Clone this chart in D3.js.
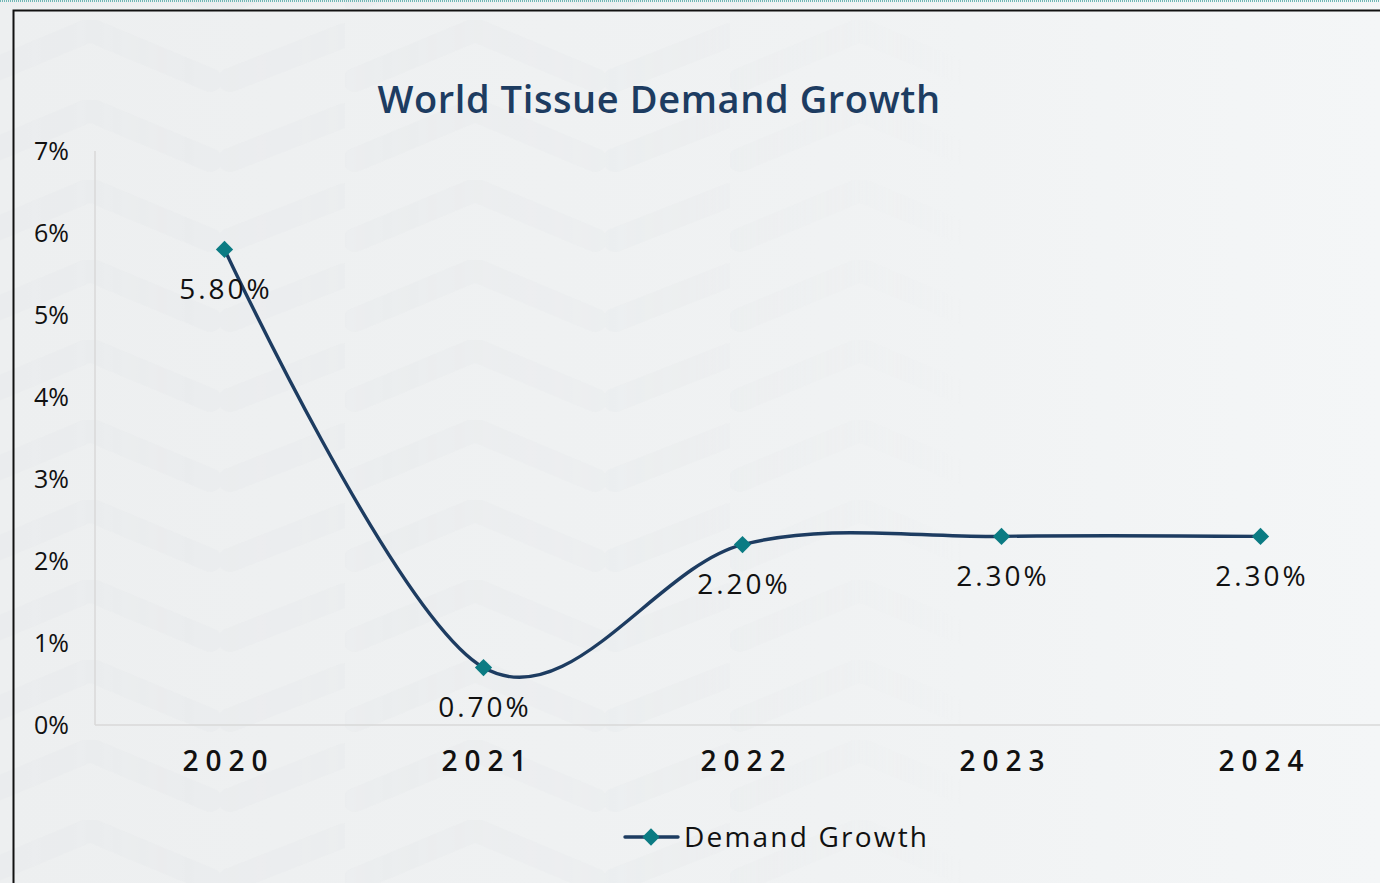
<!DOCTYPE html>
<html>
<head>
<meta charset="utf-8">
<script src="https://cdn.jsdelivr.net/npm/d3@7"></script>
<style>
  html, body { margin: 0; padding: 0; background: #eff1f2; }
  svg { display: block; }
</style>
</head>
<body>
<svg id="chart" width="1380" height="883"></svg>
<script>
const categories = ["2020", "2021", "2022", "2023", "2024"];
const values = [5.8, 0.7, 2.2, 2.3, 2.3];
const labels = ["5.80%", "0.70%", "2.20%", "2.30%", "2.30%"];
const yTicks = [0, 1, 2, 3, 4, 5, 6, 7];
const seriesName = "Demand Growth";
const title = "World Tissue Demand Growth";

const W = 1380, H = 883;
const svg = d3.select("#chart");
const defs = svg.append("defs");

// background
const bg = defs.append("linearGradient").attr("id", "bgGrad").attr("x1", 0).attr("x2", 1).attr("y1", 0).attr("y2", 0);
bg.append("stop").attr("offset", "0%").attr("stop-color", "#edeff0");
bg.append("stop").attr("offset", "60%").attr("stop-color", "#f0f2f3");
bg.append("stop").attr("offset", "100%").attr("stop-color", "#f4f6f7");
svg.append("rect").attr("width", W).attr("height", H).attr("fill", "url(#bgGrad)");

// faint chevron pattern
const pat = defs.append("pattern").attr("id", "chev").attr("patternUnits", "userSpaceOnUse")
  .attr("width", 385).attr("height", 80).attr("x", -40).attr("y", 20);
pat.append("path").attr("d", "M10,60 L130,10 L250,60 M270,60 L385,15")
  .attr("fill", "none").attr("stroke", "#e6e8ea").attr("stroke-width", 24)
  .attr("stroke-linecap", "round").attr("stroke-linejoin", "round").attr("opacity", 0.4);
const fade = defs.append("linearGradient").attr("id", "fade").attr("x1", 0).attr("x2", 1);
fade.append("stop").attr("offset", "0%").attr("stop-color", "#fff").attr("stop-opacity", 1);
fade.append("stop").attr("offset", "50%").attr("stop-color", "#fff").attr("stop-opacity", 0.7);
fade.append("stop").attr("offset", "70%").attr("stop-color", "#fff").attr("stop-opacity", 0);
const mask = defs.append("mask").attr("id", "fadeMask");
mask.append("rect").attr("width", W).attr("height", H).attr("fill", "url(#fade)");
svg.append("rect").attr("width", W).attr("height", H).attr("fill", "url(#chev)").attr("mask", "url(#fadeMask)");

// top dotted line and frame
svg.append("line").attr("x1", 0).attr("x2", W).attr("y1", 1).attr("y2", 1)
  .attr("stroke", "#6fb7b5").attr("stroke-width", 2).attr("stroke-dasharray", "1,1");
svg.append("path").attr("d", `M13.5,${H} L13.5,10.5 L${W},10.5`)
  .attr("fill", "none").attr("stroke", "#111").attr("stroke-width", 2);

// scales
const left = 95, bandW = 259;
const x = d3.scalePoint().domain(categories).range([left + bandW / 2, left + bandW / 2 + bandW * (categories.length - 1)]);
const y = d3.scaleLinear().domain([0, 7]).range([725, 151]);

const font = "'Open Sans', 'Noto Sans', sans-serif";

// axes lines
svg.append("line").attr("x1", left).attr("x2", left).attr("y1", y(7)).attr("y2", y(0))
  .attr("stroke", "#d9d9d9").attr("stroke-width", 1.5);
svg.append("line").attr("x1", left).attr("x2", W).attr("y1", y(0)).attr("y2", y(0))
  .attr("stroke", "#d9d9d9").attr("stroke-width", 1.5);

// y axis
const yAxis = d3.axisLeft(y).tickValues(yTicks).tickSize(0).tickPadding(26).tickFormat(d => d + "%");
const gy = svg.append("g").attr("transform", `translate(${left},0)`).call(yAxis);
gy.select(".domain").remove();
gy.selectAll("text").attr("font-family", font).attr("font-size", 25).attr("fill", "#111").attr("dy", "0.35em");

// x axis
const xls = 7;
const xAxis = d3.axisBottom(x).tickSize(0).tickPadding(26);
const gx = svg.append("g").attr("transform", `translate(0,${y(0)})`).call(xAxis);
gx.select(".domain").remove();
gx.selectAll("text").attr("font-family", font).attr("font-size", 28).attr("font-weight", 600)
  .attr("letter-spacing", xls).attr("dx", xls / 2).attr("fill", "#111").attr("dy", "0.71em");

// title
svg.append("text").attr("x", 659).attr("y", 113).attr("text-anchor", "middle")
  .attr("font-family", font).attr("font-size", 38).attr("font-weight", 600)
  .attr("letter-spacing", 0.6).attr("fill", "#1d3c61").text(title);

// line
const data = categories.map((c, i) => ({ c, v: values[i], label: labels[i] }));
const line = d3.line().x(d => x(d.c)).y(d => y(d.v)).curve(d3.curveCardinal.tension(0));
svg.append("path").datum(data).attr("d", line).attr("fill", "none")
  .attr("stroke", "#1d3c61").attr("stroke-width", 3.4).attr("stroke-linecap", "round");

// markers
const diamond = d3.symbol().type(d3.symbolDiamond2).size(190);
svg.selectAll(".mk").data(data).join("path").attr("class", "mk")
  .attr("transform", d => `translate(${x(d.c)},${y(d.v)})`)
  .attr("d", diamond).attr("fill", "#0b7b83");

// labels
const lls = 3;
svg.selectAll(".lbl").data(data).join("text").attr("class", "lbl")
  .attr("x", d => x(d.c)).attr("y", d => y(d.v) + 40).attr("dy", "0.35em").attr("dx", lls / 2)
  .attr("text-anchor", "middle").attr("font-family", font).attr("font-size", 28)
  .attr("letter-spacing", lls).attr("fill", "#111").text(d => d.label);

// legend
const lg = svg.append("g").attr("transform", "translate(625,837)");
lg.append("line").attr("x1", 0).attr("x2", 53).attr("y1", 0).attr("y2", 0)
  .attr("stroke", "#1d3c61").attr("stroke-width", 3.4).attr("stroke-linecap", "round");
lg.append("path").attr("transform", "translate(26,0)").attr("d", diamond).attr("fill", "#0b7b83");
lg.append("text").attr("x", 59).attr("y", 0).attr("dy", "0.35em").attr("font-family", font)
  .attr("font-size", 28).attr("letter-spacing", 2.2).attr("fill", "#111").text(seriesName);
</script>
</body>
</html>
